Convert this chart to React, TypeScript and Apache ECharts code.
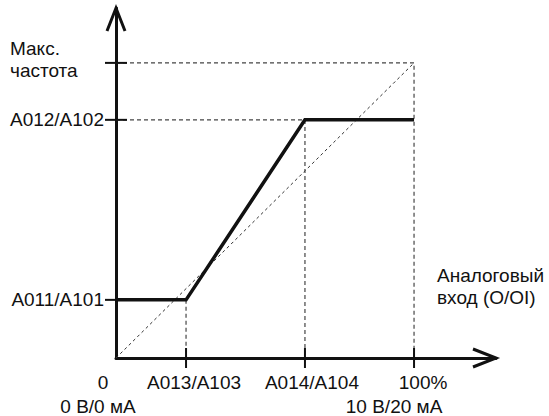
import React, { useEffect, useRef } from 'react';
import * as echarts from 'echarts';

// Characteristic breakpoints (% of input, % of max frequency)
const inputPct = [0, 23.5, 63.4, 100];
const outputPct = [19.7, 19.7, 80.7, 80.7];

// Axis tick values and labels
const xLabelValues = [0, 23.5, 63.4, 100];
const xTickLabels = ['0', 'A013/A103', 'A014/A104', '100%'];
const xSubLabels = ['0 В/0 мА', '', '', '10 В/20 мА'];
const xTickShown = [false, true, true, true];
const yTickValues = [19.7, 80.7, 100];
const yTickLabels = ['A011/A101', 'A012/A102', ''];
const yAxisName = 'Макс.\nчастота';
const xAxisName = 'Аналоговый\nвход (O/OI)';
const maxPct = 100;

// Axis extents (beyond 100% to leave room for the arrows)
const xMax = 127.5;
const yMax = 118.6;

// Label offsets (pixels) – layout only
const xLabelDx = [-13, 8, 7, 9];
const xSubDx = [-18, 0, 0, -20];

const FONT = '19px "Liberation Sans", Arial, sans-serif';
const INK = '#111';

export default function App() {
  const ref = useRef<HTMLDivElement>(null);
  useEffect(() => {
    document.body.style.margin = '0';
    const chart = echarts.init(ref.current!, null, { renderer: 'svg' });

    const dashStyle = { color: '#444', width: 1.2, type: [4, 3] as any };
    const i013 = 1, i014 = 2;

    const option: any = {
      animation: false,
      backgroundColor: '#fff',
      grid: { left: 116, top: 8, right: 53, bottom: 58 },
      xAxis: {
        type: 'value', min: 0, max: xMax,
        axisLine: { show: true, lineStyle: { color: INK, width: 3 } },
        axisTick: { show: false }, axisLabel: { show: false }, splitLine: { show: false },
      },
      yAxis: {
        type: 'value', min: 0, max: yMax,
        axisLine: { show: true, lineStyle: { color: INK, width: 3 } },
        axisTick: { show: false }, axisLabel: { show: false }, splitLine: { show: false },
      },
      graphic: [
        { type: 'text', left: 10, top: 37, style: { text: yAxisName, font: FONT, fill: INK, lineHeight: 22 } },
        { type: 'text', left: 437, top: 264, style: { text: xAxisName, font: FONT, fill: INK, lineHeight: 22 } },
      ],
      series: [
        {
          name: 'diagonal', type: 'line', symbol: 'none', z: 1, silent: true,
          data: [[0, 0], [maxPct, maxPct]],
          lineStyle: { color: '#333', width: 1, type: [3, 3] },
        },
        {
          name: 'maxGuide', type: 'line', symbol: 'none', z: 1, silent: true,
          data: [[0, maxPct], [maxPct, maxPct], [maxPct, 0]],
          lineStyle: dashStyle,
        },
        {
          name: 'a012Guide', type: 'line', symbol: 'none', z: 1, silent: true,
          data: [[0, outputPct[i014]], [inputPct[i014], outputPct[i014]], [inputPct[i014], 0]],
          lineStyle: dashStyle,
        },
        {
          name: 'a013Guide', type: 'line', symbol: 'none', z: 1, silent: true,
          data: [[inputPct[i013], outputPct[i013]], [inputPct[i013], 0]],
          lineStyle: dashStyle,
        },
        {
          name: 'output', type: 'line', symbol: 'none', z: 3, silent: true,
          data: inputPct.map((x, i) => [x, outputPct[i]]),
          lineStyle: { color: INK, width: 3.5, join: 'miter' },
        },
        {
          name: 'xTicks', type: 'custom', z: 4, silent: true, clip: false,
          data: xLabelValues.map((v) => [v, 0]),
          renderItem: (params: any, api: any) => {
            const i = params.dataIndex;
            const p = api.coord([api.value(0), 0]);
            const children: any[] = [];
            if (xTickShown[i]) {
              children.push({ type: 'line', shape: { x1: p[0], y1: p[1] - 10, x2: p[0], y2: p[1] + 10 }, style: { stroke: INK, lineWidth: 2 } });
            }
            children.push({ type: 'text', x: p[0] + xLabelDx[i], y: p[1] + 24, style: { text: xTickLabels[i], font: FONT, fill: INK, align: 'center', verticalAlign: 'middle' } });
            if (xSubLabels[i]) {
              children.push({ type: 'text', x: p[0] + xSubDx[i], y: p[1] + 48, style: { text: xSubLabels[i], font: FONT, fill: INK, align: 'center', verticalAlign: 'middle' } });
            }
            return { type: 'group', children };
          },
        },
        {
          name: 'yTicks', type: 'custom', z: 4, silent: true, clip: false,
          data: yTickValues.map((v) => [0, v]),
          renderItem: (params: any, api: any) => {
            const i = params.dataIndex;
            const p = api.coord([0, api.value(1)]);
            const children: any[] = [
              { type: 'line', shape: { x1: p[0] - 11, y1: p[1], x2: p[0] + 11, y2: p[1] }, style: { stroke: INK, lineWidth: 2 } },
            ];
            if (yTickLabels[i]) {
              children.push({ type: 'text', x: p[0] - 12, y: p[1], style: { text: yTickLabels[i], font: FONT, fill: INK, align: 'right', verticalAlign: 'middle' } });
            }
            return { type: 'group', children };
          },
        },
        {
          name: 'arrows', type: 'custom', z: 4, silent: true, clip: false,
          data: [[xMax, 0], [0, yMax]],
          renderItem: (params: any, api: any) => {
            const p = api.coord([api.value(0), api.value(1)]);
            const pts = params.dataIndex === 0
              ? [[p[0] - 23, p[1] - 9], [p[0], p[1]], [p[0] - 23, p[1] + 9]]
              : [[p[0] - 9, p[1] + 23], [p[0], p[1]], [p[0] + 9, p[1] + 23]];
            return { type: 'polyline', shape: { points: pts }, style: { stroke: INK, lineWidth: 3, fill: 'none', lineJoin: 'miter' } };
          },
        },
      ],
    };
    chart.setOption(option);
    return () => chart.dispose();
  }, []);
  return <div ref={ref} style={{ position: 'absolute', left: 0, top: 0, width: 549, height: 416 }} />;
}
